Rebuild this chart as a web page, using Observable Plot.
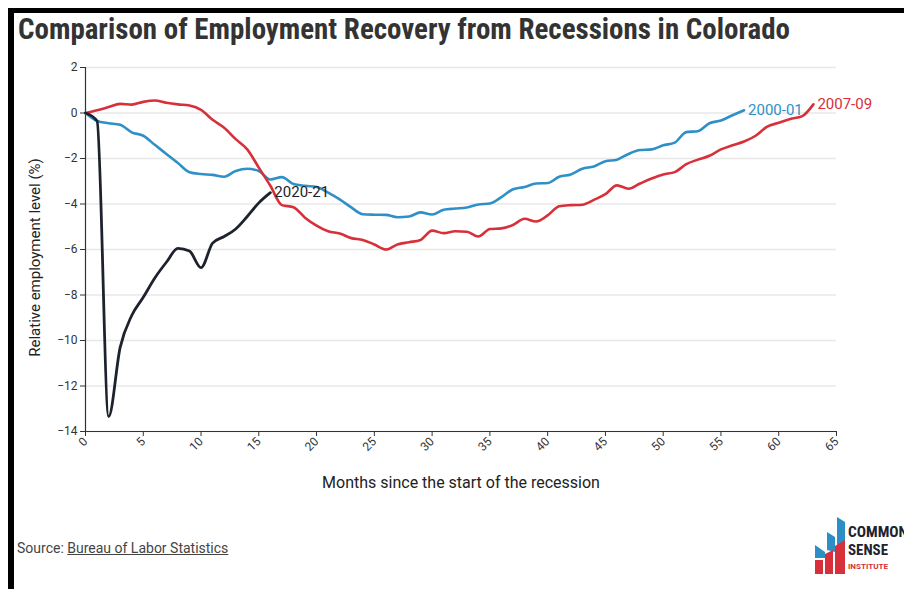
<!DOCTYPE html>
<html>
<head>
<meta charset="utf-8">
<script src="https://cdn.jsdelivr.net/npm/d3@7"></script>
<script src="https://cdn.jsdelivr.net/npm/@observablehq/plot@0.6"></script>
<style>
  html, body { margin: 0; padding: 0; background: #fff; }
  #wrap { position: relative; width: 904px; height: 589px; overflow: hidden; font-family: Roboto, "Noto Sans", sans-serif; }
  .bar { position: absolute; background: #000; }
  #title { position: absolute; left: 18px; top: 14px; font-size: 30px; line-height: 30px; font-weight: 700;
           font-family: "Roboto Condensed", "Liberation Sans Narrow", "DejaVu Sans Condensed", Roboto, sans-serif;
           font-stretch: condensed; color: #333; white-space: nowrap; transform-origin: 0 0; }
  #chart { position: absolute; left: 0; top: 50px; }
  #source { position: absolute; left: 17px; top: 541px; font-size: 14px; line-height: 14px; color: #444; white-space: nowrap; }
  #source span { text-decoration: underline; }
  #logo { position: absolute; left: 810px; top: 510px; }
</style>
</head>
<body>
<div id="wrap">
  <div class="bar" style="left:8px;top:8px;width:896px;height:5px;"></div>
  <div class="bar" style="left:8px;top:8px;width:6px;height:581px;"></div>
  <div id="title">Comparison of Employment Recovery from Recessions in Colorado</div>
  <div id="chart"></div>
  <div id="source">Source: <span>Bureau of Labor Statistics</span></div>
  <svg id="logo" width="94" height="70" viewBox="0 0 94 70">
    <polygon points="5,35 15,42 15,48 5,48" fill="#2b8fc6"/>
    <polygon points="17,22 25,27 25,42 17,40" fill="#2b8fc6"/>
    <polygon points="27,7 35,12 35,32 27,36" fill="#2b8fc6"/>
    <polygon points="5,50 13,50 13,64 5,64" fill="#d7303b"/>
    <polygon points="15,44 23,40 23,64 15,64" fill="#d7303b"/>
    <polygon points="25,36 35,30 35,64 25,64" fill="#d7303b"/>
    <text x="38" y="27" font-family="Roboto Condensed, Liberation Sans Narrow, Roboto" font-weight="700" font-size="14" fill="#1d222d" textLength="60" lengthAdjust="spacingAndGlyphs">COMMON</text>
    <text x="38" y="45" font-family="Roboto Condensed, Liberation Sans Narrow, Roboto" font-weight="700" font-size="14" fill="#1d222d" textLength="40" lengthAdjust="spacingAndGlyphs">SENSE</text>
    <text x="38" y="59" font-family="Roboto" font-weight="700" font-size="7" fill="#d7303b" textLength="40" lengthAdjust="spacingAndGlyphs">INSTITUTE</text>
  </svg>
</div>
<script>
// Relative employment level (%) by month since the start of each recession (index = month)
const seriesNames = ["2000-01", "2007-09", "2020-21"];
const values2000 = [0, -0.35, -0.45, -0.52, -0.85, -1.0, -1.4, -1.8, -2.2, -2.6,
  -2.68, -2.72, -2.8, -2.55, -2.45, -2.55, -2.92, -2.82, -3.12, -3.2,
  -3.25, -3.5, -3.8, -4.15, -4.45, -4.47, -4.48, -4.58, -4.55, -4.37,
  -4.46, -4.25, -4.2, -4.15, -4.02, -3.98, -3.7, -3.35, -3.25, -3.1,
  -3.08, -2.8, -2.7, -2.45, -2.35, -2.12, -2.05, -1.8, -1.63, -1.6,
  -1.42, -1.3, -0.84, -0.8, -0.45, -0.33, -0.1, 0.12];
const values2007 = [0, 0.12, 0.26, 0.4, 0.37, 0.49, 0.55, 0.45, 0.38, 0.33,
  0.14, -0.3, -0.65, -1.15, -1.6, -2.4, -3.2, -4.05, -4.14, -4.6,
  -4.95, -5.2, -5.3, -5.5, -5.58, -5.78, -6.0, -5.78, -5.68, -5.58,
  -5.17, -5.28, -5.2, -5.22, -5.43, -5.1, -5.07, -4.92, -4.65, -4.77,
  -4.5, -4.1, -4.05, -4.03, -3.82, -3.57, -3.18, -3.33, -3.1, -2.88,
  -2.7, -2.6, -2.25, -2.05, -1.88, -1.6, -1.42, -1.25, -1.0, -0.6,
  -0.43, -0.26, -0.15, 0.38];
const values2020 = [0, -0.35, -13.35, -10.3, -8.9, -8.1, -7.25, -6.56, -5.95, -6.07,
  -6.8, -5.72, -5.43, -5.1, -4.55, -3.95, -3.5];
const seriesColors = ["#2f90c8", "#d7303b", "#1d222d"];
const yTicks = [-14, -12, -10, -8, -6, -4, -2, 0, 2];
const xTicks = [0, 5, 10, 15, 20, 25, 30, 35, 40, 45, 50, 55, 60, 65];
const xLabel = "Months since the start of the recession";
const yLabel = "Relative employment level (%)";

const allValues = [values2000, values2007, values2020];
const rows = allValues.flatMap((vals, s) => vals.map((v, i) => ({series: seriesNames[s], month: i, value: v})));
const ends = allValues.map((vals, s) => ({series: seriesNames[s], month: vals.length - 1, value: vals[vals.length - 1]}));

const chart = Plot.plot({
  width: 904,
  height: 451,
  marginLeft: 85,
  marginRight: 68,
  marginTop: 17,
  marginBottom: 70,
  style: {fontFamily: "Roboto, sans-serif", fontSize: "12px", color: "#333", background: "transparent"},
  x: {domain: [0, 65]},
  y: {domain: [-14, 2]},
  color: {domain: seriesNames, range: seriesColors},
  marks: [
    Plot.ruleY(yTicks, {stroke: "#e8e8e8", strokeWidth: 1.5}),
    Plot.axisY({ticks: yTicks, tickSize: 5, label: null, tickPadding: 3, stroke: "#333"}),
    Plot.axisX({ticks: xTicks, tickSize: 5, label: null, tickRotate: -45, tickPadding: 3, stroke: "#333"}),
    Plot.ruleX([0], {stroke: "#333", strokeWidth: 1.2}),
    Plot.ruleY([-14], {stroke: "#333", strokeWidth: 1.2}),
    Plot.line(rows.filter(d => d.series !== "2020-21"), {x: "month", y: "value", z: "series", stroke: "series", strokeWidth: 2.6, curve: "monotone-x"}),
    Plot.line(rows.filter(d => d.series === "2020-21"), {x: "month", y: "value", stroke: "series", strokeWidth: 2.8, curve: "monotone-x"}),
    Plot.text(ends, {x: "month", y: "value", text: "series", fill: "series", dx: 4, textAnchor: "start", fontSize: 15}),
    Plot.text([xLabel], {frameAnchor: "bottom", dy: 56, fontSize: 16, fill: "#222"}),
    Plot.text([yLabel], {frameAnchor: "left", dx: -50, dy: 8, rotate: -90, textAnchor: "middle", fontSize: 15, fill: "#222"})
  ]
});
document.getElementById("chart").appendChild(chart);

// fit title width to reference
const t = document.getElementById("title");
const w = t.getBoundingClientRect().width;
t.style.transform = `scaleX(${772 / w})`;
</script>
</body>
</html>
